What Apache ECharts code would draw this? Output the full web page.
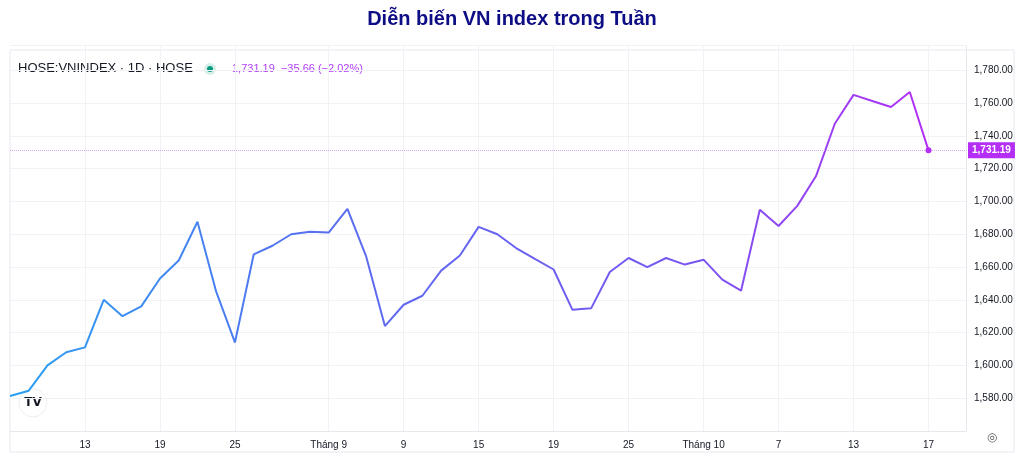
<!DOCTYPE html>
<html><head><meta charset="utf-8">
<script src="https://cdn.jsdelivr.net/npm/echarts@6/dist/echarts.min.js"></script>
<style>html,body{margin:0;padding:0;background:#fff}#c{width:1024px;height:463px}</style>
</head><body><div id="c"></div>
<script>
const values = [1581.4,1584.6,1600,1608,1611,1640,1630,1636,1653,1664,1687.6,1645,1614,1667.7,1673,1680,1681.5,1681,1695.5,1666.5,1624,1637,1642.5,1657.8,1667,1684.5,1680,1671.6,1665,1658.5,1634,1634.8,1657,1665.5,1660,1665.5,1661.5,1664.5,1652.3,1645.6,1695,1685,1697.3,1715.5,1747.4,1765,1761.3,1757.6,1766.8,1731.19];
const tickLabels = {4:'13',8:'19',12:'25',17:'Tháng 9',21:'9',25:'15',29:'19',33:'25',37:'Tháng 10',41:'7',45:'13',49:'17'};
const categories = values.map((v,i)=>String(i)).concat(['50','51']);
const lastPrice = 1731.19;

const chart = echarts.init(document.getElementById('c'));
chart.setOption({
  animation:false,
  title:{text:'Diễn biến VN index trong Tuần',left:'center',top:4,
    textStyle:{fontFamily:'Liberation Sans',fontSize:20,fontWeight:'bold',color:'#0d0d85'}},
  graphic:[
    {type:'rect',shape:{x:10,y:50,width:1004,height:402},style:{fill:'none',stroke:'#e6e8ee',lineWidth:1}},
    {type:'text',x:18,y:62,style:{text:'HOSE:VNINDEX · 1D · HOSE',fontFamily:'Liberation Sans',fontSize:13,fill:'#131722'}},
    {type:'circle',shape:{cx:210,cy:69,r:6},style:{fill:'#d6efe9'}},
    {type:'circle',shape:{cx:210,cy:69,r:3},style:{fill:'#089981'}},
    {type:'text',x:232,y:63,style:{text:'1,731.19  −35.66 (−2.02%)',fontFamily:'Liberation Sans',fontSize:11,fill:'#b03cf5'}},
    {type:'circle',shape:{cx:33,cy:403,r:14},style:{fill:'#fff',stroke:'#eee'}},
    {type:'text',x:33,y:403,style:{text:'TV',fontFamily:'DejaVu Sans',fontWeight:'bold',fontSize:12,fill:'#131722',align:'center',verticalAlign:'middle'}},
    {type:'text',x:992,y:438,style:{text:'◎',fontSize:12,fill:'#555',align:'center',verticalAlign:'middle'}}
  ],
  grid:{left:10,right:58,top:45.7,bottom:32,show:false},
  xAxis:{type:'category',data:categories,boundaryGap:false,
    axisLine:{show:true,lineStyle:{color:'#e6e8ee'}},axisTick:{show:false},
    axisLabel:{interval:(i)=>tickLabels[i]!==undefined,formatter:(v,i)=>tickLabels[i]||'',
      color:'#131722',fontSize:10,fontFamily:'Liberation Sans',margin:9},
    splitLine:{show:true,interval:(i)=>tickLabels[i]!==undefined,lineStyle:{color:'#f0f2f6'}}},
  yAxis:{type:'value',position:'right',min:1560,max:1795,interval:20,
    axisLine:{show:true,lineStyle:{color:'#e6e8ee'}},axisTick:{show:false},
    axisLabel:{showMaxLabel:false,showMinLabel:false,color:'#131722',fontSize:10,fontFamily:'Liberation Sans',margin:8,
      formatter:v=>v.toLocaleString('en-US',{minimumFractionDigits:2})},
    splitLine:{lineStyle:{color:'#f0f2f6'}}},
  series:[{type:'line',data:values,symbol:'none',
    lineStyle:{width:2,color:new echarts.graphic.LinearGradient(0,0,1,0,[
      {offset:0,color:'#2aa0f2'},{offset:0.35,color:'#5a6ef0'},{offset:0.75,color:'#7a55f0'},{offset:1,color:'#b42ef5'}])},
    markPoint:{symbol:'circle',symbolSize:6,itemStyle:{color:'#b42ef5'},label:{show:false},
      data:[{coord:['49',lastPrice]}]},
    markLine:{symbol:'none',silent:true,lineStyle:{color:'#d9a8f5',type:'dotted',width:1},
      label:{position:'end',formatter:lastPrice.toFixed(2).replace(/^(\d)(\d{3})/,'$1,$2'),
        backgroundColor:'#b42ef5',color:'#fff',fontSize:10,fontWeight:'bold',padding:[3,4],fontFamily:'Liberation Sans',distance:2},
      data:[{yAxis:lastPrice}]}
  }]
});
</script></body></html>
